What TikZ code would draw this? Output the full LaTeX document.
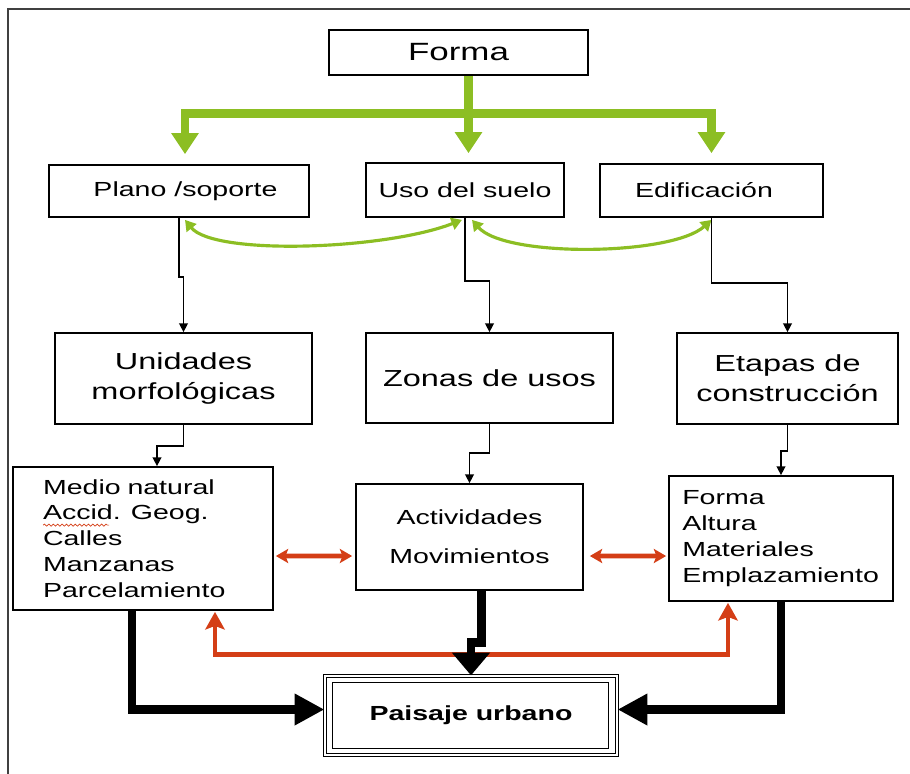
\documentclass[tikz,border=0pt]{standalone}
\usepackage{fontspec}
\setmainfont{Liberation Sans}[FakeStretch=1.4]
\usepackage{tikz}
\usetikzlibrary{arrows.meta}
\usetikzlibrary{calc}
\usetikzlibrary{decorations.pathmorphing}
\definecolor{mgreen}{RGB}{140, 190, 35}
\definecolor{mred}{RGB}{212, 62, 22}
\newcommand{\smallfnt}{\fontsize{11.6}{14.7}\selectfont}
\newcommand{\midfnt}{\fontsize{13.2}{17}\selectfont}
\newcommand{\bigfnt}{\fontsize{14.2}{17}\selectfont}
\tikzset{box/.style = {draw, line width = 1pt, inner sep = 0pt, align = center}}
\tikzset{frameline/.style = {line width = 1pt, black!75}}
\tikzset{greenline/.style = {mgreen, line width = 5pt}}
\tikzset{greencurve/.style = {mgreen, line width = 1.8pt, {Triangle[length = 6pt, width = 7pt]}-{Triangle[length = 6pt, width = 7pt]}}}
\tikzset{thinarrow/.style = {line width = 0.8pt, -{Triangle[length = 5pt, width = 5pt]}}}
\tikzset{redarrow/.style = {mred, line width = 2.8pt, {Stealth[length = 7pt, width = 8pt, inset = 1.5pt]}-{Stealth[length = 7pt, width = 8pt, inset = 1.5pt]}}}
\tikzset{redlong/.style = {mred, line width = 2.8pt, {Stealth[length = 10pt, width = 11pt, inset = 2pt]}-{Stealth[length = 10pt, width = 11pt, inset = 2pt]}}}
\tikzset{thickarrow/.style = {line width = 5pt, -{Triangle[length = 17pt, width = 17pt]}}}

\begin{document}
\begin{tikzpicture}[x = 0.02cm, y = -0.02cm]
    \useasboundingbox (0, 0) rectangle (910, 774);
    \draw [frameline] (8, 774) -- (8, 9) -- (910, 9);

    % boxes
    \node [box, line width = 1.6pt, minimum width = 5.18cm, minimum height = 0.9cm, font = \bigfnt] (forma) at (458.5, 52.5) {Forma};
    \node [box, minimum width = 5.2cm, minimum height = 1.04cm, font = \smallfnt] (plano) at (179, 191) {\hspace*{0.26cm}Plano /soporte};
    \node [box, minimum width = 3.96cm, minimum height = 1.08cm, font = \smallfnt] (uso) at (465, 190) {Uso del suelo};
    \node [box, minimum width = 4.46cm, minimum height = 1.06cm, font = \smallfnt] (edif) at (711.5, 190.5) {Edificación\hspace*{0.3cm}};
    \node [box, minimum width = 5.14cm, minimum height = 1.82cm, font = \midfnt] (unidades) at (183.5, 378.5) {Unidades\\morfológicas};
    \node [box, minimum width = 4.94cm, minimum height = 1.8cm, font = \midfnt] (zonas) at (489.5, 378) {Zonas de usos};
    \node [box, minimum width = 4.42cm, minimum height = 1.82cm, font = \midfnt] (etapas) at (787.5, 378.5) {Etapas de\\construcción};
    \node [box, align = left, inner xsep = 0.6cm, text width = 4cm, minimum height = 2.86cm, font = \smallfnt] (medio) at (143, 538.5)
      {Medio natural\\Accid. Geog.\\Calles\\Manzanas\\Parcelamiento};
    \node [box, minimum width = 4.54cm, minimum height = 2.12cm, font = \smallfnt] (activ) at (469.5, 537) {Actividades\\[7.3pt]Movimientos};
    \node [box, align = left, inner xsep = 0.265cm, text width = 3.95cm, minimum height = 2.5cm, font = \smallfnt] (formas) at (781, 538.5)
      {Forma\\Altura\\Materiales\\Emplazamiento};
    \node [box, double, double distance = 1.2pt, line width = 0.7pt, minimum width = 5.84cm, minimum height = 1.58cm, font = \bfseries\smallfnt] (paisaje) at (471, 715.5) {Paisaje urbano};
    \draw [line width = 0.7pt] ($(paisaje.north west) + (8, 7)$) rectangle ($(paisaje.south east) + (-9, -7)$);
    \draw [mred, line width = 0.4pt, decorate, decoration = {snake, amplitude = 0.6pt, segment length = 2.5pt}]
      ($(medio.north west) + (31, 59)$) -- ++(66, 0);

    % green
    \coordinate (hub) at ($(forma.south) + (10, 37)$);
    \draw [greenline] ($(forma.south) + (10, 0)$) -- (hub);
    \foreach \n/\dx/\dy in {plano/6/-10, uso/3.5/-9, edif/0/-10} {
      \draw [greenline, -{Triangle[length = 12pt, width = 15pt]}] (hub) -| ($(\n.north) + (\dx, \dy)$);
    }
    \draw [greencurve] ($(plano.south) + (6, 2)$) .. controls ($(plano.south) + (35, 38)$) and ($(uso.south) + (-80, 32)$) .. ($(uso.south) + (-3, 2)$);
    \draw [greencurve] ($(uso.south) + (7, 2)$) .. controls ($(uso.south) + (40, 40)$) and ($(edif.south) + (-40, 38)$) .. ($(edif.south) + (0, 2)$);

    % thin
    \draw [thinarrow] (plano.south) -- ++(0, 59) -| (unidades.north);
    \draw [thinarrow] (uso.south) -- ++(0, 63) -| (zonas.north);
    \draw [thinarrow] (edif.south) -- ++(0, 65) -| (etapas.north);
    \draw [thinarrow] (unidades.south) -- ++(0, 21) -| ($(medio.north) + (14, 0)$);
    \draw [thinarrow] (zonas.south) -- ++(0, 29) -| (activ.north);
    \draw [thinarrow] (etapas.south) -- ++(0, 26) -| (formas.north);

    % red
    \draw [redarrow] ($(medio.east) + (2, 17.5)$) -- ($(activ.west) + (-3, 19)$);
    \draw [redarrow] ($(activ.east) + (6, 19)$) -- ($(formas.west) + (-2, 17.5)$);
    \draw [redlong] ($(medio.south) + (72, 1)$) |- ($(paisaje.north) + (0, -21)$) -| ($(formas.south) + (-53, 1)$);

    % thick
    \draw [thickarrow] ($(medio.south) + (-11, 0)$) |- ($(paisaje.west) + (0, -6)$);
    \draw [thickarrow] (formas.south) |- ($(paisaje.east) + (0, -6)$);
    \draw [thickarrow, -{Triangle[length = 13pt, width = 21pt]}] ($(activ.south) + (12, 0)$) -- ++(0, 52) -| (paisaje.north);
\end{tikzpicture}
\end{document}
